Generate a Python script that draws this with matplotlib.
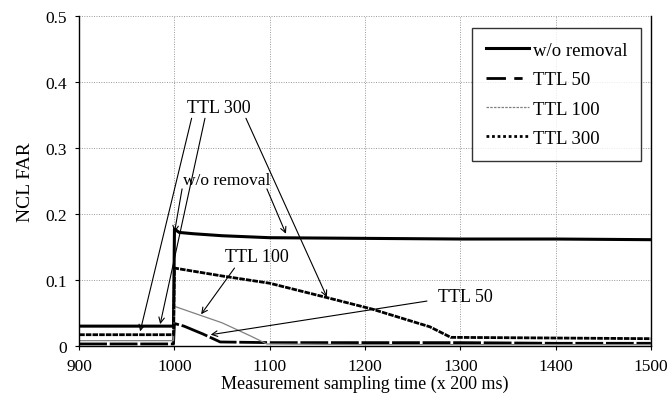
import matplotlib
matplotlib.use("Agg")
import matplotlib.pyplot as plt
from matplotlib.lines import Line2D

plt.rcParams['font.family'] = ['Liberation Serif', 'DejaVu Serif']

# NCL false-alarm rate over measurement sampling time for each removal policy
wo_t   = [900, 999, 1000, 1005, 1020, 1050, 1100, 1200, 1300, 1400, 1500]
wo_far = [0.030, 0.030, 0.177, 0.172, 0.170, 0.167, 0.164, 0.163, 0.162, 0.162, 0.161]

ttl50_t   = [900, 999, 1000, 1010, 1030, 1048, 1100, 1200, 1300, 1400, 1500]
ttl50_far = [0.003, 0.003, 0.034, 0.030, 0.018, 0.006, 0.005, 0.005, 0.005, 0.004, 0.004]

ttl100_t   = [900, 999, 1000, 1020, 1050, 1080, 1097, 1200, 1300, 1400, 1500]
ttl100_far = [0.008, 0.008, 0.060, 0.050, 0.035, 0.015, 0.003, 0.002, 0.002, 0.002, 0.002]

ttl300_t   = [900, 999, 1000, 1050, 1100, 1158, 1207, 1268, 1290, 1400, 1500]
ttl300_far = [0.017, 0.017, 0.118, 0.106, 0.095, 0.074, 0.056, 0.029, 0.013, 0.012, 0.011]

legend_labels = ["w/o removal", "TTL 50", "TTL 100", "TTL 300"]

fig = plt.figure(figsize=(6.71, 4.14), dpi=100)
ax = fig.add_axes([0.118, 0.162, 0.852, 0.797])

ax.plot(wo_t, wo_far, color="black", lw=2.2, solid_joinstyle="round")
ax.plot(ttl50_t, ttl50_far, color="black", lw=2.0, dashes=(10, 1))
ax.plot(ttl100_t, ttl100_far, color="#808080", lw=0.9)
ax.plot(ttl300_t, ttl300_far, color="black", lw=2.0, dashes=(2, 0.4))

ax.set_xlim(900, 1500)
ax.set_ylim(0, 0.5)
ax.set_xticks(range(900, 1501, 100))
ax.set_yticks([0, 0.1, 0.2, 0.3, 0.4, 0.5])
ax.set_yticklabels(["0", "0.1", "0.2", "0.3", "0.4", "0.5"])
ax.tick_params(labelsize=12.5, length=3, width=0.8, direction="out", pad=6)
ax.grid(True, color="#999999", linestyle=(0, (1, 1.5)), linewidth=0.7)
ax.set_axisbelow(True)

for side in ["left", "bottom", "right"]:
    ax.spines[side].set_color("black")
    ax.spines[side].set_linewidth(1.0)
ax.spines["top"].set_visible(False)

ax.set_xlabel("Measurement sampling time (x 200 ms)", fontsize=13, labelpad=0)
ax.set_ylabel("NCL FAR", fontsize=14, labelpad=8)

arrow = dict(arrowstyle="->", color="black", lw=0.8, shrinkA=0, shrinkB=0)

# TTL 300 callouts
ax.annotate("", xy=(964, 0.022), xytext=(1018, 0.345), arrowprops=arrow)
ax.annotate("", xy=(985, 0.033), xytext=(1032, 0.345), arrowprops=arrow)
ax.annotate("", xy=(1160, 0.074), xytext=(1075, 0.345), arrowprops=arrow)
ax.text(1047, 0.362, "TTL 300", fontsize=13, ha="center", va="center")

# w/o removal callouts
ax.annotate("", xy=(1000, 0.172), xytext=(1008, 0.238), arrowprops=arrow)
ax.annotate("", xy=(1117, 0.170), xytext=(1097, 0.238), arrowprops=arrow)
ax.text(1055, 0.252, "w/o removal", fontsize=12.5, ha="center", va="center")

# TTL 100 callout
ax.annotate("", xy=(1028, 0.048), xytext=(1063, 0.118), arrowprops=arrow)
ax.text(1087, 0.135, "TTL 100", fontsize=13, ha="center", va="center")

# TTL 50 callout
ax.annotate("", xy=(1038, 0.017), xytext=(1265, 0.068), arrowprops=arrow)
ax.text(1305, 0.075, "TTL 50", fontsize=13, ha="center", va="center")

handles = [
    Line2D([], [], color="black", lw=2.2),
    Line2D([], [], color="black", lw=2.0, dashes=(7, 3, 3, 3)),
    Line2D([], [], color="#808080", lw=0.9, dashes=(2, 1)),
    Line2D([], [], color="black", lw=2.0, dashes=(1, 1)),
]
leg = ax.legend(handles, legend_labels, loc="upper right",
                bbox_to_anchor=(0.983, 0.964), fontsize=13.5,
                frameon=True, fancybox=False, edgecolor="black",
                handlelength=2.3, handletextpad=0.2, labelspacing=0.65,
                borderpad=0.75, borderaxespad=0)
leg.get_frame().set_linewidth(1.0)

fig.savefig("out.png", dpi=100)
